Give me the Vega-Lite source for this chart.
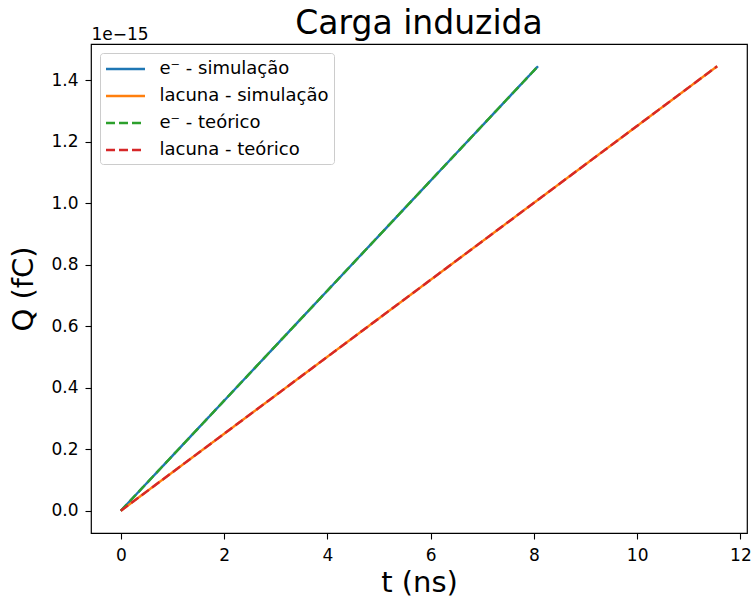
{
  "$schema": "https://vega.github.io/schema/vega-lite/v6.json",
  "width": 656,
  "height": 489,
  "autosize": "none",
  "padding": {"left": 91, "top": 44, "right": 4, "bottom": 71},
  "config": {
    "font": "DejaVu Sans",
    "background": "white",
    "view": {"stroke": "black", "strokeWidth": 1.2},
    "axis": {
      "grid": false,
      "domain": false,
      "tickColor": "black",
      "tickSize": 6,
      "tickWidth": 1.1,
      "labelFont": "DejaVu Sans",
      "labelFontSize": 17,
      "labelColor": "black",
      "labelPadding": 7,
      "titleFont": "DejaVu Sans",
      "titleFontSize": 29,
      "titleFontWeight": "normal",
      "titleColor": "black"
    },
    "legend": {
      "orient": "top-left",
      "offset": 9,
      "fillColor": "white",
      "strokeColor": "#cccccc",
      "cornerRadius": 3,
      "padding": 5,
      "symbolType": "M-2,0H2",
      "symbolSize": 380,
      "symbolStrokeWidth": 2.4,
      "symbolOffset": 9.5,
      "labelFont": "DejaVu Sans",
      "labelFontSize": 18,
      "labelColor": "black",
      "labelOffset": 23,
      "labelLimit": 0,
      "rowPadding": 7
    }
  },
  "title": {
    "text": "Carga induzida",
    "font": "DejaVu Sans",
    "fontSize": 33,
    "fontWeight": "normal",
    "color": "black",
    "offset": -16
  },
  "data": {
    "values": [
      {"serie": "e⁻ - simulação", "t": 0, "Q": 0},
      {"serie": "e⁻ - simulação", "t": 8.08, "Q": 1.445},
      {"serie": "lacuna - simulação", "t": 0, "Q": 0},
      {"serie": "lacuna - simulação", "t": 11.55, "Q": 1.445},
      {"serie": "e⁻ - teórico", "t": 0, "Q": 0},
      {"serie": "e⁻ - teórico", "t": 8.08, "Q": 1.445},
      {"serie": "lacuna - teórico", "t": 0, "Q": 0},
      {"serie": "lacuna - teórico", "t": 11.55, "Q": 1.445}
    ]
  },
  "encoding": {
    "y": {
      "field": "Q",
      "type": "quantitative",
      "scale": {"domain": [-0.07225, 1.51725], "nice": false, "zero": false},
      "axis": {"values": [0, 0.2, 0.4, 0.6, 0.8, 1.0, 1.2, 1.4], "format": ".1f", "title": "Q (fC)", "titlePadding": 12}
    },
    "color": {
      "field": "serie",
      "type": "nominal",
      "scale": {
        "domain": ["e⁻ - simulação", "lacuna - simulação", "e⁻ - teórico", "lacuna - teórico"],
        "range": ["#1f77b4", "#ff7f0e", "#2ca02c", "#d62728"]
      },
      "legend": {"title": null}
    },
    "strokeDash": {
      "field": "serie",
      "type": "nominal",
      "scale": {
        "domain": ["e⁻ - simulação", "lacuna - simulação", "e⁻ - teórico", "lacuna - teórico"],
        "range": [[1, 0], [1, 0], [9, 4], [9, 4]]
      },
      "legend": {"title": null}
    }
  },
  "layer": [
    {
      "transform": [{"filter": "indexof(datum.serie, 'simula') >= 0"}],
      "mark": {"type": "line", "strokeWidth": 2.4},
      "encoding": {
        "x": {
          "field": "t",
          "type": "quantitative",
          "scale": {"domain": [-0.5775, 12.1275], "nice": false, "zero": false},
          "axis": {"values": [0, 2, 4, 6, 8, 10, 12], "format": "d", "title": "t (ns)", "titlePadding": 5, "labelPadding": 8}
        }
      }
    },
    {
      "transform": [{"filter": "indexof(datum.serie, 'teó') >= 0"}],
      "mark": {"type": "line", "strokeWidth": 2.4},
      "encoding": {
        "x": {
          "field": "t",
          "type": "quantitative",
          "scale": {"domain": [-0.5775, 12.1275], "nice": false, "zero": false},
          "axis": {
            "orient": "top",
            "title": "1e−15",
            "labels": false,
            "ticks": false,
            "domain": false,
            "titleFontSize": 17,
            "titleAnchor": "start",
            "titleAlign": "left",
            "titleAngle": 0,
            "titleBaseline": "alphabetic",
            "titleX": 0,
            "titleY": -5
          }
        }
      }
    }
  ],
  "resolve": {"axis": {"x": "independent"}}
}
